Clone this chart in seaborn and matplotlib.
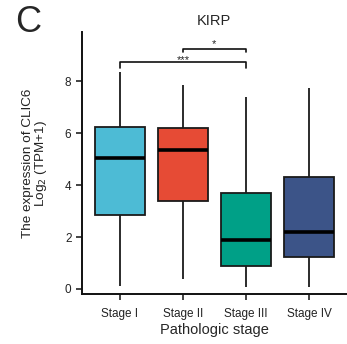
import numpy as np
import pandas as pd
import seaborn as sns
import matplotlib
matplotlib.use("Agg")
import matplotlib.pyplot as plt

stages = ["Stage I", "Stage II", "Stage III", "Stage IV"]
# five-number summaries: min, q1, median, q3, max
stage1 = [0.10, 2.86, 5.03, 6.25, 8.35]
stage2 = [0.39, 3.40, 5.37, 6.21, 7.87]
stage3 = [0.07, 0.90, 1.90, 3.71, 7.40]
stage4 = [0.07, 1.22, 2.18, 4.33, 7.73]
colors = ["#4DBBD5", "#E64B35", "#00A087", "#3C5488"]
yticks = [0, 2, 4, 6, 8]

sns.set_style("ticks")
plt.rcParams["font.family"] = ["Liberation Sans", "DejaVu Sans"]

df = pd.DataFrame({
    "stage": np.repeat(stages, 5),
    "value": stage1 + stage2 + stage3 + stage4,
})

fig = plt.figure(figsize=(3.47, 3.44), dpi=100)
ax = fig.add_axes([0.236, 0.145, 0.764, 0.762])

sns.boxplot(data=df, x="stage", y="value", hue="stage", palette=colors,
            order=stages, hue_order=stages, legend=False, width=0.8,
            saturation=1, whis=(0, 100), showcaps=False, ax=ax,
            boxprops=dict(edgecolor="#1a1a1a", linewidth=1.3),
            whiskerprops=dict(color="#1a1a1a", linewidth=1.3),
            medianprops=dict(color="black", linewidth=2.6),
            showfliers=False)

ax.set_xlim(-0.6, 3.6)
ax.set_ylim(-0.2, 9.9)
ax.set_yticks(yticks)
ax.tick_params(axis="both", labelsize=8.5, length=4, width=1.2, colors="#222222")
ax.tick_params(axis="x", pad=6)
for s in ["left", "bottom"]:
    ax.spines[s].set_linewidth(1.4)
    ax.spines[s].set_color("#111111")
sns.despine(ax=ax)

ax.set_xlabel("Pathologic stage", fontsize=10.5, labelpad=2)
ax.set_ylabel("The expression of CLIC6\nLog$_2$ (TPM+1)", fontsize=9.7,
              linespacing=0.9, color="#222222")
ax.yaxis.set_label_coords(-0.125, 0.5)

# significance brackets
def bracket(x1, x2, y, h, text, dy):
    ax.plot([x1, x1, x2, x2], [y - h, y, y, y - h], color="#111111", lw=1.2,
            clip_on=False)
    ax.text((x1 + x2) / 2, y + dy, text, ha="center", va="center", fontsize=8)

bracket(0, 2, 8.75, 0.25, "***", 0.06)
bracket(1, 2, 9.25, 0.14, "*", 0.17)

fig.text(0.615, 0.94, "KIRP", ha="center", va="center", fontsize=10.5)
fig.text(0.08, 0.935, "C", ha="center", va="center", fontsize=26)

fig.savefig("out.png", dpi=100)
